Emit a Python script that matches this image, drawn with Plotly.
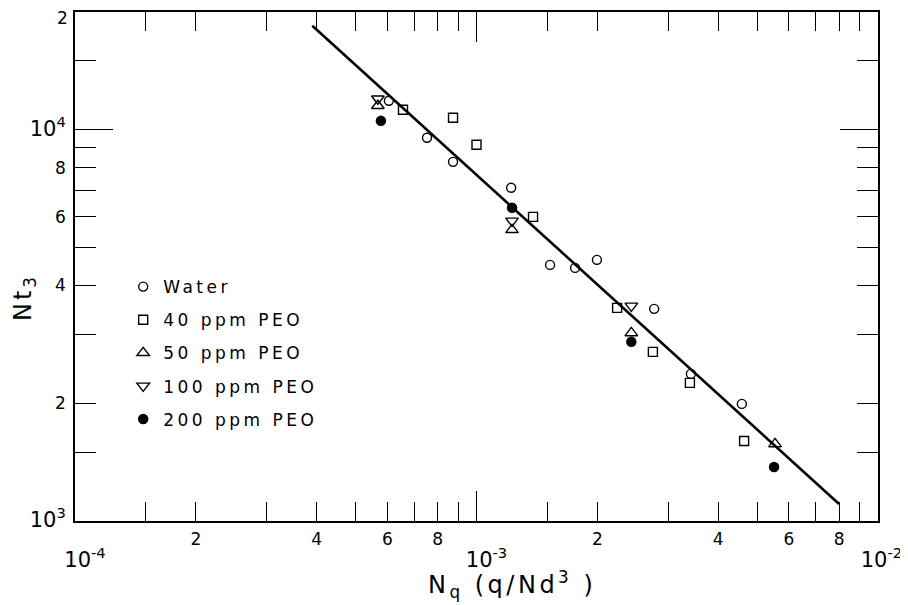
import plotly.graph_objects as go
import numpy as np

# ---------------- data ----------------
water_x = [6.05e-4, 7.53e-4, 8.74e-4, 1.22e-3, 1.525e-3, 1.76e-3, 1.995e-3, 2.77e-3, 3.42e-3, 4.58e-3]
water_y = [11860, 9540, 8280, 7110, 4515, 4436, 4650, 3485, 2377, 1992]

peo40_x = [6.56e-4, 8.74e-4, 1.0e-3, 1.383e-3, 2.24e-3, 2.75e-3, 3.40e-3, 4.64e-3]
peo40_y = [11250, 10730, 9160, 5990, 3505, 2705, 2254, 1602]

peo50_x = [5.68e-4, 1.226e-3, 2.43e-3, 5.54e-3]
peo50_y = [11520, 5550, 3025, 1574]

peo100_x = [5.68e-4, 1.226e-3, 2.43e-3]
peo100_y = [12000, 5850, 3548]

peo200_x = [5.78e-4, 1.226e-3, 2.43e-3, 5.51e-3]
peo200_y = [10540, 6317, 2870, 1374]

fit_x = [3.9e-4, 8.0e-3]
fit_y = [18450, 1105]

series_names = ["Water", "40 ppm PEO", "50 ppm PEO", "100 ppm PEO", "200 ppm PEO"]

x_ticks = [1e-4, 1.5e-4, 2e-4, 3e-4, 4e-4, 5e-4, 6e-4, 7e-4, 8e-4, 9e-4,
           1e-3, 1.5e-3, 2e-3, 3e-3, 4e-3, 5e-3, 6e-3, 7e-3, 8e-3, 9e-3, 1e-2]
x_tick_labels = ["D-4", "", "2", "", "4", "", "6", "", "8", "",
                 "D-3", "", "2", "", "4", "", "6", "", "8", "", "D-2"]
x_decades = [1e-4, 1e-3, 1e-2]

y_ticks = [1e3, 1.5e3, 2e3, 3e3, 4e3, 5e3, 6e3, 7e3, 8e3, 9e3, 1e4, 1.5e4, 2e4]
y_tick_labels = ["D3", "", "2", "", "4", "", "6", "", "8", "", "D4", "", "2"]
y_decades = [1e3, 1e4]

x_range = [1e-4, 1e-2]
y_range = [1e3, 2e4]

# ---------------- figure ----------------
FONT = "DejaVu Sans"


def fmt_x(lbl, pad=3):
    if lbl.startswith("D"):
        return ("<br><span style='font-size:21px'>%s10<sup>%s</sup></span>"
                % ("&nbsp;" * pad, lbl[1:]))
    return lbl


def fmt_y(lbl):
    if lbl.startswith("D"):
        return "<span style='font-size:21px'>10<sup>%s</sup></span>" % lbl[1:]
    return lbl


def spaced(name, px=3.5):
    return "<span style='letter-spacing:%spx'>%s</span>" % (px, name)


fig = go.Figure()

mk_line = dict(color="black", width=1.4)
fig.add_trace(go.Scatter(x=water_x, y=water_y, mode="markers", name=spaced(series_names[0]),
                         legendgroup="a",
                         marker=dict(symbol="circle-open", size=9, color="black", line=mk_line)))
fig.add_trace(go.Scatter(x=peo40_x, y=peo40_y, mode="markers", name=spaced(series_names[1]),
                         legendgroup="b",
                         marker=dict(symbol="square-open", size=9, color="black", line=mk_line)))
fig.add_trace(go.Scatter(x=peo50_x, y=peo50_y, mode="markers", name=spaced(series_names[2]),
                         legendgroup="c",
                         marker=dict(symbol="triangle-up-open", size=11, color="black", line=mk_line)))
fig.add_trace(go.Scatter(x=peo100_x, y=peo100_y, mode="markers", name=spaced(series_names[3]),
                         legendgroup="d",
                         marker=dict(symbol="triangle-down-open", size=11, color="black", line=mk_line)))
fig.add_trace(go.Scatter(x=peo200_x, y=peo200_y, mode="markers", name=spaced(series_names[4]),
                         legendgroup="e",
                         marker=dict(symbol="circle", size=10.5, color="black", line=dict(width=0))))
fig.add_trace(go.Scatter(x=fit_x, y=fit_y, mode="lines", showlegend=False,
                         xaxis="x2", yaxis="y2",
                         line=dict(color="black", width=2.6)))

lx = [np.log10(v) for v in x_range]
ly = [np.log10(v) for v in y_range]

common = dict(showgrid=False, zeroline=False, ticks="inside", tickcolor="black",
              tickwidth=1.3, automargin=False)

x_axis_text = [fmt_x(t, 1 if i == len(x_tick_labels) - 1 else 3)
               for i, t in enumerate(x_tick_labels)]

# the top-most label (at the frame edge) is placed as an annotation so it is not clipped
y_axis_text = [fmt_y(t) for t in y_tick_labels]
top_label = y_axis_text[-1]
y_axis_text[-1] = ""

# the page body has an 8px margin, so the figure is 8px smaller than the window
fig.update_layout(
    width=900, height=597,
    margin=dict(l=67, r=30, t=4, b=84),
    paper_bgcolor="white", plot_bgcolor="white",
    font=dict(family=FONT, size=17, color="black"),
    showlegend=True,
    legend=dict(x=0.06, y=0.495, xanchor="left", yanchor="top",
                bgcolor="rgba(0,0,0,0)", borderwidth=0,
                tracegroupgap=8, font=dict(size=17, family=FONT)),
    xaxis=dict(type="log", range=lx, tickmode="array", tickvals=x_ticks,
               ticktext=x_axis_text, ticklen=19, ticklabeloverflow="allow",
               showline=True, linecolor="black", linewidth=1.5, mirror="ticks",
               tickangle=0, ticklabelstandoff=2, **common),
    yaxis=dict(type="log", range=ly, tickmode="array", tickvals=y_ticks,
               ticktext=y_axis_text, ticklen=21, ticklabeloverflow="allow",
               showline=True, linecolor="black", linewidth=1.5, mirror="ticks",
               ticklabelstandoff=4, **common),
    xaxis2=dict(type="log", range=lx, overlaying="x", anchor="y2", side="bottom",
                tickmode="array", tickvals=x_decades, ticklen=30, showticklabels=False,
                showline=False, mirror="ticks", **common),
    yaxis2=dict(type="log", range=ly, overlaying="y", anchor="x2", side="left",
                tickmode="array", tickvals=y_decades, ticklen=38, showticklabels=False,
                showline=False, mirror="ticks", **common),
)

fig.add_annotation(text=top_label, xref="paper", yref="y",
                   x=0, y=np.log10(y_ticks[-1]), xanchor="right", yanchor="middle",
                   xshift=-5, yshift=-6, showarrow=False,
                   font=dict(size=17, family=FONT))

fig.add_annotation(text=spaced("Nt<sub>3</sub>", 3), xref="paper", yref="paper",
                   x=-0.0635, y=0.438, xanchor="center", yanchor="middle",
                   textangle=-90, showarrow=False,
                   font=dict(size=24, family=FONT))
fig.add_annotation(text=spaced("N<sub>q</sub> (q/Nd<sup>3</sup> )", 3.5),
                   xref="paper", yref="paper",
                   x=0.544, y=-0.124, xanchor="center", yanchor="middle",
                   showarrow=False,
                   font=dict(size=24, family=FONT))

fig.write_html("out.html")
